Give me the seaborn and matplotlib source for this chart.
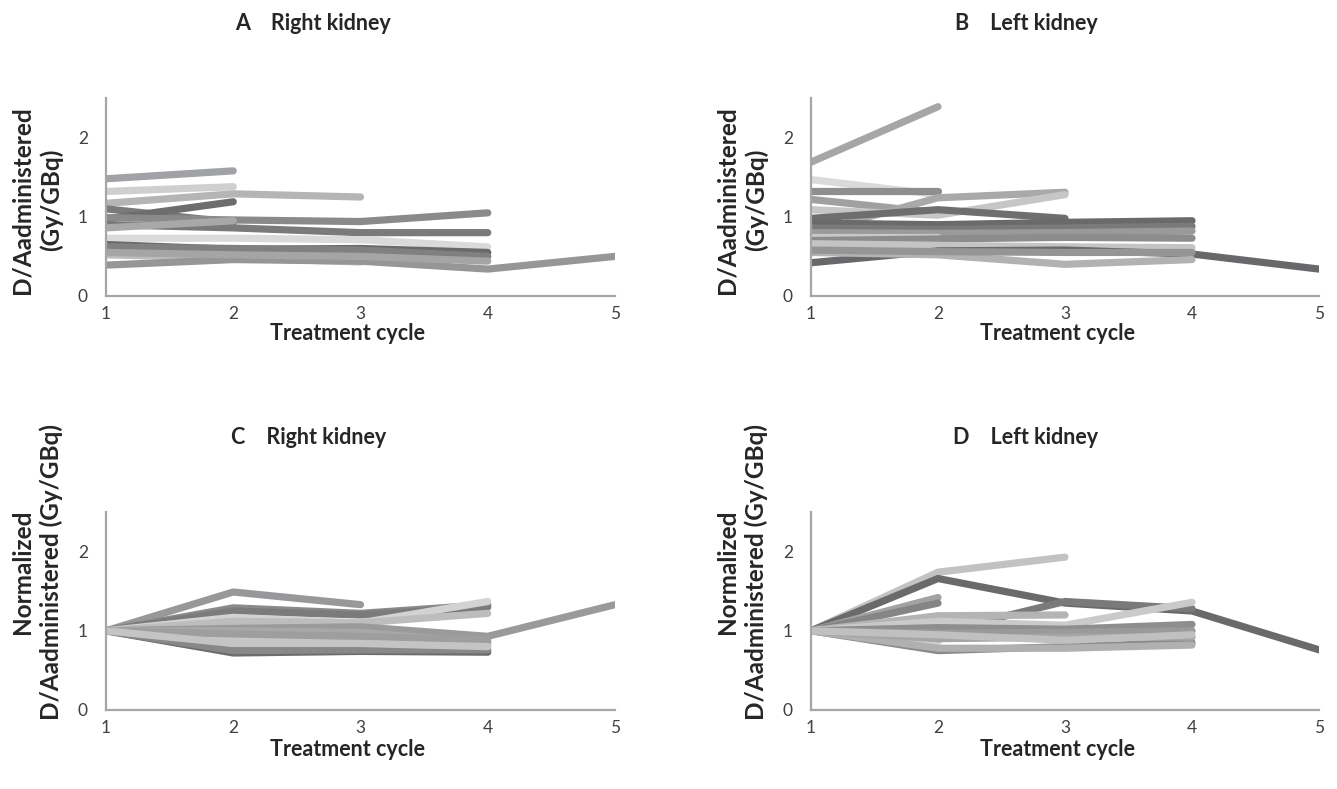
import numpy as np
import pandas as pd
import matplotlib
matplotlib.use("Agg")
import matplotlib.pyplot as plt
import seaborn as sns

# ---------------- data ----------------
cycles = [1, 2, 3, 4, 5]
tick_labels = ["1", "2", "3", "4", "5"]

right_abs = [
    [1.48, 1.58], [1.32, 1.38], [1.17, 1.29, 1.25], [1.10, 0.93], [0.97, 1.19],
    [0.99, 0.96, 0.94, 1.05], [0.90, 0.86, 0.80, 0.80], [0.86, 0.95],
    [0.73, 0.73, 0.71, 0.62], [0.65, 0.59, 0.60, 0.55], [0.62, 0.60, 0.58, 0.50],
    [0.52, 0.48, 0.43], [0.39, 0.46, 0.44, 0.34, 0.50], [0.55, 0.52, 0.50, 0.44],
]
right_abs_colors = ["#a0a2a5", "#cfcfcf", "#b5b5b5", "#7a7a7a", "#6d6d6d",
                    "#8a8a8a", "#7a7a7a", "#a8a8a8", "#dadada", "#6a6a6a",
                    "#808080", "#bdbdbd", "#969696", "#a5a5a5"]

left_abs = [
    [1.69, 2.39], [1.47, 1.28], [1.33, 1.33], [1.22, 1.05], [0.80, 1.24, 1.31],
    [1.09, 1.02, 1.28], [0.98, 1.09, 0.98], [0.92, 0.90, 0.93, 0.95],
    [0.86, 0.84, 0.86, 0.88], [0.80, 0.79, 0.80, 0.82], [0.74, 0.74],
    [0.70, 0.72, 0.74, 0.73], [0.66, 0.64, 0.62, 0.61], [0.42, 0.57, 0.58, 0.53, 0.34],
    [0.55, 0.52, 0.40, 0.46], [0.58, 0.56, 0.55, 0.55],
]
left_abs_colors = ["#a6a6a8", "#dadada", "#8e8e8e", "#a0a0a0", "#a9a9a9",
                   "#c6c6c6", "#6e6e6e", "#6a6a6a", "#7a7a7a", "#9a9a9a",
                   "#c8c8c8", "#8c8c8c", "#c4c4c4", "#68686a", "#b2b2b2", "#959595"]

right_norm = [
    [1, 1.49, 1.33], [1, 1.29, 1.22, 1.33], [1, 1.25, 1.20, 1.30],
    [1, 1.17, 1.10, 1.37], [1, 1.12, 1.10, 1.22], [1, 1.03, 1.05, 0.93, 1.33],
    [1, 1.00, 0.98, 0.85], [1, 0.92, 0.90, 0.82], [1, 0.88, 0.83],
    [1, 0.72, 0.74, 0.73], [1, 0.75, 0.76, 0.76], [1, 0.96, 0.93, 0.88],
    [1, 0.84, 0.84, 0.80],
]
right_norm_colors = ["#98989a", "#8a8a8a", "#7b7b7b", "#d2d2d2", "#bdbdbd",
                     "#9a9a9a", "#a8a8a8", "#b8b8b8", "#c8c8c8", "#6c6c6c",
                     "#888888", "#9e9e9e", "#c4c4c4"]

left_norm = [
    [1, 1.74, 1.93], [1, 1.66, 1.35, 1.25, 0.76], [1, 1.42], [1, 1.35],
    [1, 0.98, 1.37, 1.28], [1, 1.19, 1.20], [1, 1.12, 1.07, 1.36],
    [1, 1.04, 1.02, 1.08], [1, 0.97, 0.98, 1.00], [1, 0.86],
    [1, 0.75, 0.80, 0.85], [1, 0.78, 0.78, 0.82], [1, 0.90, 0.92, 0.92],
    [1, 0.95, 0.88, 0.95],
]
left_norm_colors = ["#c2c2c2", "#6a6a6a", "#a2a2a2", "#858585", "#7a7a7a",
                    "#b4b4b4", "#cacaca", "#8e8e8e", "#9a9a9a", "#d0d0d0",
                    "#8a8a8a", "#b0b0b0", "#a6a6a6", "#c0c0c0"]

titles = ["A    Right kidney", "B    Left kidney", "C    Right kidney", "D    Left kidney"]
ylabel_abs = "D/Aadministered\n(Gy/GBq)"
ylabel_norm = "Normalized\nD/Aadministered (Gy/GBq)"
xlabel = "Treatment cycle"

# ---------------- figure ----------------
sns.set_style("white")
plt.rcParams["font.family"] = ["Lato", "DejaVu Sans"]

W, H = 1337, 789
fig = plt.figure(figsize=(W / 100, H / 100), dpi=100)

def fx(px):
    return px / W

def fy(py):
    return 1 - py / H

panels = [
    (right_abs, right_abs_colors, 106, 615, 98, 296),
    (left_abs, left_abs_colors, 811, 1319, 98, 296),
    (right_norm, right_norm_colors, 106, 615, 512, 710),
    (left_norm, left_norm_colors, 811, 1319, 512, 710),
]

for series, colors, x0, x1, y0, y1 in panels:
    ax = fig.add_axes([fx(x0), fy(y1), fx(x1 - x0), (y1 - y0) / H])
    rows = []
    for i, vals in enumerate(series):
        for c, v in zip(cycles, vals):
            rows.append({"patient": i, "cycle": c, "value": v})
    df = pd.DataFrame(rows)
    sns.lineplot(data=df, x="cycle", y="value", hue="patient",
                 palette=colors, linewidth=5.2, legend=False, ax=ax,
                 solid_capstyle="round", solid_joinstyle="round")
    ax.set_xlim(1, 5)
    ax.set_ylim(0, 2.5)
    ax.set_xticks(cycles)
    ax.set_xticklabels(tick_labels)
    ax.set_yticks([0, 1, 2])
    ax.set_yticklabels(["0", "1", "2"])
    ax.set_xlabel("")
    ax.set_ylabel("")
    for s in ["top", "right"]:
        ax.spines[s].set_visible(False)
    for s in ["left", "bottom"]:
        ax.spines[s].set_color("#a6a6a6")
        ax.spines[s].set_linewidth(1.6)
    ax.tick_params(axis="both", length=0, labelsize=12.5, colors="#404040")
    ax.tick_params(axis="x", pad=7)
    ax.tick_params(axis="y", pad=13)

# titles
title_kw = dict(fontsize=15.5, fontweight="bold", ha="center", va="center", color="#262626")
fig.text(fx(313), fy(24), titles[0], **title_kw)
fig.text(fx(1026), fy(24), titles[1], **title_kw)
fig.text(fx(309), fy(438), titles[2], **title_kw)
fig.text(fx(1026), fy(438), titles[3], **title_kw)

# x labels
xl_kw = dict(fontsize=15.5, fontweight="bold", ha="center", va="center", color="#262626")
fig.text(fx(347), fy(334), xlabel, **xl_kw)
fig.text(fx(1058), fy(334), xlabel, **xl_kw)
fig.text(fx(347), fy(749), xlabel, **xl_kw)
fig.text(fx(1058), fy(749), xlabel, **xl_kw)

# y labels
yl_kw = dict(fontsize=17.5, fontweight="bold", ha="center", va="center",
             rotation=90, color="#262626", linespacing=1.3, multialignment="center")
fig.text(fx(37), fy(200), ylabel_abs, **yl_kw)
fig.text(fx(742), fy(200), ylabel_abs, **yl_kw)
fig.text(fx(37), fy(572), ylabel_norm, **yl_kw)
fig.text(fx(742), fy(572), ylabel_norm, **yl_kw)

fig.savefig("out.png", dpi=100, facecolor="white")
